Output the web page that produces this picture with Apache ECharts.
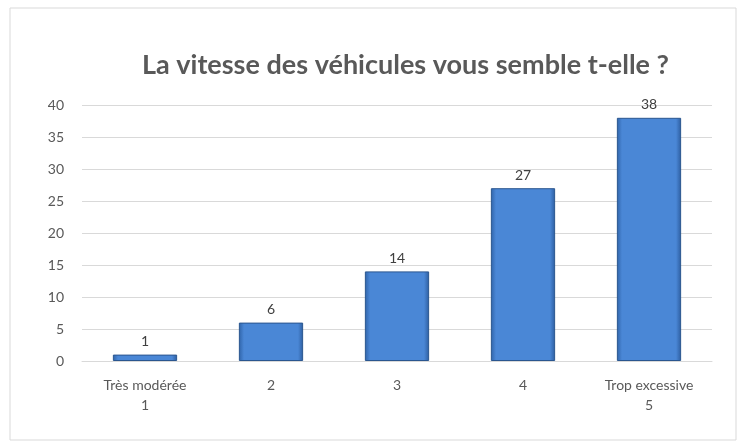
<!DOCTYPE html>
<html>
<head>
<meta charset="utf-8">
<script src="https://cdn.jsdelivr.net/npm/echarts@6/dist/echarts.min.js"></script>
<style>
  html, body { margin: 0; padding: 0; background: #fff; }
  #chart { width: 744px; height: 445px; }
</style>
</head>
<body>
<div id="chart"></div>
<script>
const categories = ['Très modérée\n1', '2', '3', '4', 'Trop excessive\n5'];
const counts = [1, 6, 14, 27, 38];

const chart = echarts.init(document.getElementById('chart'), null, { renderer: 'canvas' });

// biseau façon Excel : bords sombres, milieu clair
const barFill = new echarts.graphic.LinearGradient(0, 0, 1, 0, [
  { offset: 0, color: '#2f63a8' },
  { offset: 0.08, color: '#4a87d6' },
  { offset: 0.92, color: '#4a87d6' },
  { offset: 1, color: '#2d5d9f' },
]);

chart.setOption({
  backgroundColor: '#fff',
  graphic: [{
    type: 'rect',
    shape: { x: 10, y: 8, width: 726, height: 432 },
    style: { fill: 'none', stroke: '#d9d9d9', lineWidth: 1 },
    silent: true,
  }],
  title: {
    text: 'La vitesse des véhicules vous semble t-elle ?',
    left: 137,
    top: 47,
    textStyle: { fontFamily: 'Lato', fontWeight: 'bold', fontSize: 27, color: '#595959' },
  },
  grid: { left: 82, right: 32, top: 105, bottom: 84 },
  xAxis: {
    type: 'category',
    data: categories,
    axisLine: { lineStyle: { color: '#d9d9d9' } },
    axisTick: { show: false },
    axisLabel: { color: '#595959', fontFamily: 'Lato', fontSize: 14, margin: 14, lineHeight: 20 },
  },
  yAxis: {
    type: 'value',
    min: 0, max: 40, interval: 5,
    axisLine: { show: false },
    axisTick: { show: false },
    splitLine: { lineStyle: { color: '#d9d9d9' } },
    axisLabel: { color: '#595959', fontFamily: 'Lato', fontSize: 14, margin: 18 },
  },
  series: [{
    type: 'bar',
    data: counts,
    barWidth: '51%',
    itemStyle: { color: barFill, borderColor: '#2a568f', borderWidth: 1 },
    label: { show: true, position: 'top', color: '#404040', fontFamily: 'Lato', fontSize: 14, distance: 6 },
  }],
});
</script>
</body>
</html>
